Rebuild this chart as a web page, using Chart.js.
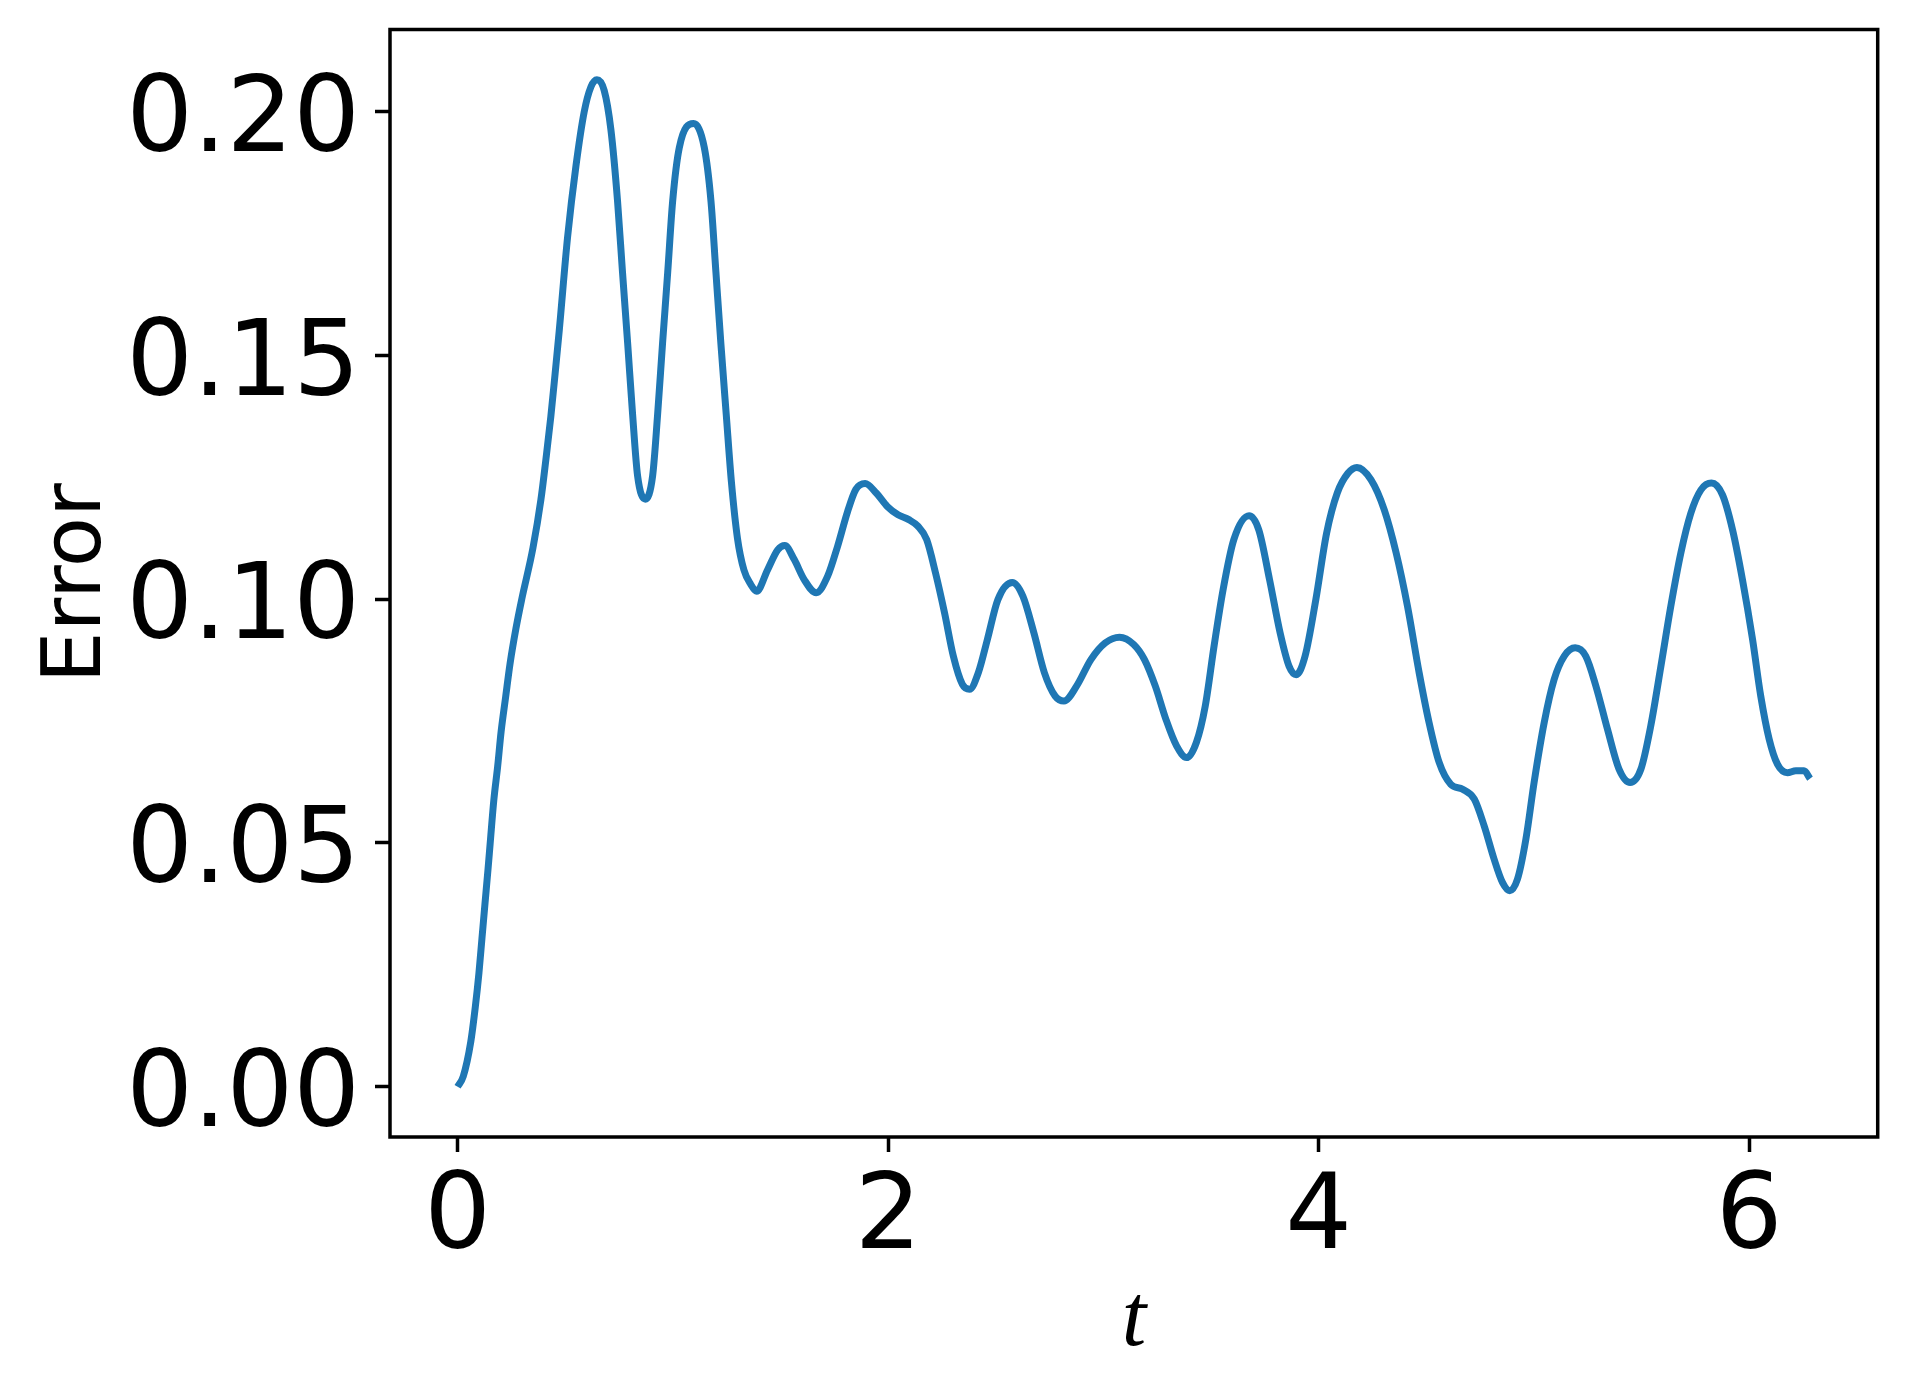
<!DOCTYPE html>
<html>
<head>
<meta charset="utf-8">
<script src="https://cdn.jsdelivr.net/npm/chart.js@4.4.1/dist/chart.umd.min.js"></script>
<style>
html,body{margin:0;padding:0;background:#fff;}
#wrap{width:1906px;height:1396px;}
</style>
</head>
<body>
<div id="wrap"><canvas id="c" width="1906" height="1396"></canvas></div>
<script>
// ---- data ----
const tValues = [
0.000,0.026,0.061,0.082,0.099,0.113,0.127,0.141,0.151,0.168,
0.186,0.202,0.223,0.244,0.271,0.298,0.350,0.387,0.410,0.433,
0.453,0.472,0.511,0.550,0.588,0.619,0.647,0.681,
0.712,0.743,0.766,0.790,0.813,0.836,0.872,0.906,0.929,0.952,
0.976,0.999,1.030,1.096,1.146,1.177,1.200,1.223,1.248,1.272,
1.300,1.330,1.362,1.389,1.440,1.487,1.520,1.564,1.610,1.666,
1.719,1.765,1.812,1.850,1.893,1.946,1.996,2.046,2.096,2.137,
2.179,2.220,2.262,2.303,2.345,2.378,2.419,2.461,2.510,2.577,
2.626,2.677,2.726,2.776,2.817,2.876,2.942,3.008,3.075,3.141,
3.191,3.241,3.291,3.340,3.387,3.432,3.473,3.514,3.556,3.606,
3.677,3.722,3.772,3.821,3.863,3.896,3.937,3.987,4.037,4.087,
4.136,4.178,4.243,4.305,4.360,4.413,4.467,4.513,4.560,4.614,
4.669,4.723,4.769,4.815,4.854,4.888,4.924,4.963,5.001,5.048,
5.094,5.141,5.192,5.241,5.288,5.342,5.396,5.447,5.497,5.543,
5.590,5.636,5.683,5.729,5.776,5.825,5.876,5.923,5.969,6.016,
6.054,6.093,6.132,6.178,6.217,6.255,6.283
];
const errorValues = [
0.0000,0.0021,0.0092,0.0163,0.0233,0.0304,0.0375,0.0445,0.0498,0.0587,
0.0657,0.0728,0.0799,0.0869,0.0940,0.1000,0.1105,0.1204,0.1286,0.1374,
0.1463,0.1550,0.1743,0.1889,0.1999,0.2050,0.2065,0.2043,
0.1963,0.1816,0.1670,0.1524,0.1378,0.1253,0.1205,0.1253,0.1378,0.1524,
0.1670,0.1816,0.1926,0.1975,0.1926,0.1816,0.1670,0.1524,0.1378,0.1240,
0.1125,0.1060,0.1030,0.1016,0.1060,0.1101,0.1110,0.1081,0.1040,0.1013,
0.1047,0.1108,0.1180,0.1225,0.1237,0.1217,0.1190,0.1173,0.1163,0.1150,
0.1122,0.1054,0.0972,0.0883,0.0825,0.0815,0.0849,0.0917,0.0999,0.1034,
0.1006,0.0931,0.0849,0.0801,0.0791,0.0822,0.0876,0.0910,0.0922,0.0907,
0.0876,0.0822,0.0753,0.0699,0.0675,0.0706,0.0780,0.0903,0.1019,0.1122,
0.1171,0.1142,0.1040,0.0931,0.0862,0.0845,0.0883,0.0999,0.1135,0.1218,
0.1258,0.1270,0.1245,0.1183,0.1095,0.0985,0.0849,0.0747,0.0665,0.0620,
0.0610,0.0590,0.0535,0.0467,0.0419,0.0402,0.0426,0.0508,0.0624,0.0747,
0.0835,0.0883,0.0900,0.0883,0.0822,0.0733,0.0651,0.0624,0.0651,0.0740,
0.0862,0.0985,0.1095,0.1176,0.1224,0.1238,0.1214,0.1142,0.1040,0.0917,
0.0801,0.0713,0.0661,0.0644,0.0648,0.0648,0.0632
];
const xTicks = [0, 2, 4, 6];
const yTicks = [0.00, 0.05, 0.10, 0.15, 0.20];
const xLabel = 't';
const yLabel = 'Error';
// ---- end data ----

const points = tValues.map((t, i) => ({x: t, y: errorValues[i]}));

const framePlugin = {
  id: 'frame',
  afterDatasetsDraw(chart) {
    const a = chart.chartArea, ctx = chart.ctx;
    ctx.save();
    ctx.strokeStyle = '#000';
    ctx.lineWidth = 3.5;
    ctx.strokeRect(a.left, a.top, a.right - a.left, a.bottom - a.top);
    ctx.restore();
  }
};

new Chart(document.getElementById('c'), {
  type: 'line',
  data: {
    datasets: [{
      data: points,
      borderColor: '#1f77b4',
      borderWidth: 7,
      pointRadius: 0,
      fill: false,
      cubicInterpolationMode: 'monotone',
      borderCapStyle: 'butt',
      borderJoinStyle: 'round'
    }]
  },
  options: {
    responsive: false,
    animation: false,
    events: [],
    layout: { padding: { left: 0, top: 29.5, right: 28.3, bottom: 0 } },
    plugins: { legend: { display: false }, tooltip: { enabled: false } },
    scales: {
      x: {
        type: 'linear',
        min: -0.31416,
        max: 6.5973,
        afterBuildTicks: ax => { ax.ticks = xTicks.map(v => ({value: v})); },
        afterFit: ax => { ax.height = 1396 - 1137; ax.paddingLeft = 0; ax.paddingRight = 0; },
        grid: { drawOnChartArea: false, drawTicks: true, tickLength: 15, tickWidth: 3.5, tickColor: '#000' },
        border: { display: false },
        ticks: {
          color: '#000',
          font: { family: 'DejaVu Sans', size: 105, lineHeight: 1.0 },
          padding: 16,
          maxRotation: 0,
          autoSkip: false,
          callback: v => String(v)
        },
        title: {
          display: true,
          text: xLabel,
          color: '#000',
          font: { family: 'Liberation Serif', size: 88, style: 'italic', lineHeight: 1.2 },
          padding: { top: 0, bottom: 21 }
        }
      },
      y: {
        type: 'linear',
        min: -0.0103,
        max: 0.2168,
        afterBuildTicks: ax => { ax.ticks = yTicks.map(v => ({value: v})); },
        afterFit: ax => { ax.width = 390; ax.paddingTop = 0; ax.paddingBottom = 0; },
        grid: { drawOnChartArea: false, drawTicks: true, tickLength: 15, tickWidth: 3.5, tickColor: '#000' },
        border: { display: false },
        ticks: {
          color: '#000',
          font: { family: 'DejaVu Sans', size: 105, lineHeight: 1.0 },
          padding: 15,
          labelOffset: 12,
          autoSkip: false,
          callback: v => v.toFixed(2)
        },
        title: {
          display: true,
          text: yLabel,
          color: '#000',
          font: { family: 'DejaVu Sans', size: 82, lineHeight: 1.2 },
          padding: { top: 30, bottom: 0 }
        }
      }
    }
  },
  plugins: [framePlugin]
});
</script>
</body>
</html>
